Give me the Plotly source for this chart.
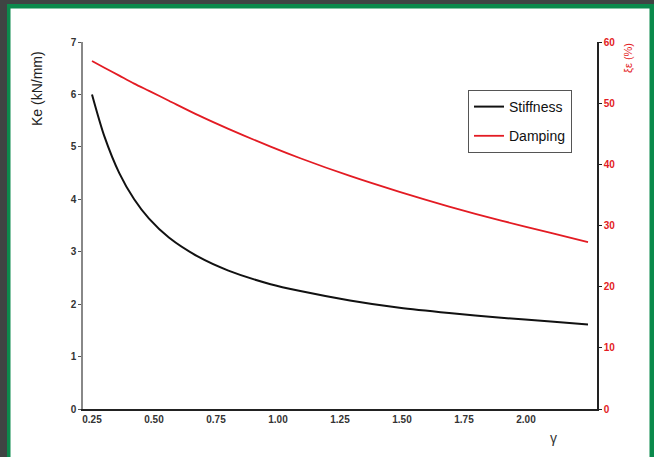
import plotly.graph_objects as go

# ---- data ----
gamma = [0.25, 0.30, 0.36, 0.42, 0.48, 0.56, 0.68, 0.80, 0.97, 1.09, 1.29, 1.49, 1.69, 1.90, 2.10, 2.25]
stiffness = [6.00, 5.20, 4.50, 4.00, 3.63, 3.27, 2.90, 2.64, 2.38, 2.25, 2.07, 1.93, 1.83, 1.74, 1.67, 1.61]
damping = [56.9, 55.8, 54.5, 53.2, 52.0, 50.4, 48.0, 45.8, 42.9, 41.0, 38.1, 35.5, 33.1, 30.8, 28.8, 27.3]

x_label_vals = [0.25, 0.50, 0.75, 1.00, 1.25, 1.50, 1.75, 2.00]
x_label_text = ["0.25", "0.50", "0.75", "1.00", "1.25", "1.50", "1.75", "2.00"]
x_tick_marks = [0.5, 0.7875, 1.075, 1.3625, 1.65, 1.9375, 2.225]
y_left_ticks = [0, 1, 2, 3, 4, 5, 6, 7]
y_right_ticks = [0, 10, 20, 30, 40, 50, 60]

W, H = 654, 457
ML, MR, MT, MB = 83, 57, 42, 48
PW, PH = W - ML - MR, H - MT - MB

def xp(px):
    return (px - ML) / PW

def yp(py):
    return (H - MB - py) / PH

RED = "#e31b23"
FONT = "Liberation Sans, Arial, sans-serif"

fig = go.Figure()
fig.add_trace(go.Scatter(x=gamma, y=stiffness, mode="lines", name="Stiffness",
                         line=dict(color="#111111", width=2, shape="spline", smoothing=0.8),
                         xaxis="x", yaxis="y", legendgroup="a"))
fig.add_trace(go.Scatter(x=gamma, y=damping, mode="lines", name="Damping",
                         line=dict(color=RED, width=1.8, shape="spline", smoothing=0.8),
                         xaxis="x", yaxis="y2", legendgroup="b"))

shapes = [
    dict(type="rect", xref="paper", yref="paper", x0=xp(0), x1=xp(7), y0=yp(H), y1=yp(0),
         fillcolor="#3f4443", line=dict(width=0), layer="below"),
    dict(type="rect", xref="paper", yref="paper", x0=xp(0), x1=xp(W), y0=yp(4), y1=yp(0),
         fillcolor="#3f4443", line=dict(width=0), layer="below"),
    dict(type="rect", xref="paper", yref="paper", x0=xp(7), x1=xp(10.5), y0=yp(H), y1=yp(4),
         fillcolor="#0b8a4c", line=dict(width=0), layer="below"),
    dict(type="rect", xref="paper", yref="paper", x0=xp(7), x1=xp(W), y0=yp(8.5), y1=yp(4),
         fillcolor="#0b8a4c", line=dict(width=0), layer="below"),
    dict(type="rect", xref="paper", yref="paper", x0=xp(649.5), x1=xp(W), y0=yp(H), y1=yp(4),
         fillcolor="#0b8a4c", line=dict(width=0), layer="below"),
]

annotations = [
    dict(text="Ke (kN/mm)", xref="paper", yref="paper", x=xp(37), y=yp(89),
         xanchor="center", yanchor="middle",
         textangle=-90, showarrow=False, font=dict(family=FONT, size=14, color="#222222")),
    dict(text="ξε (%)", xref="paper", yref="paper", x=xp(628), y=yp(58),
         xanchor="center", yanchor="middle",
         textangle=-90, showarrow=False, font=dict(family=FONT, size=11, color=RED)),
    dict(text="γ", xref="paper", yref="paper", x=xp(553), y=yp(438),
         xanchor="center", yanchor="middle",
         showarrow=False, font=dict(family=FONT, size=14, color="#333333")),
]

xr = [0.25 + (ML - 92) / 248, 0.25 + (W - MR - 92) / 248]

fig.update_layout(
    width=W, height=H,
    margin=dict(l=ML, r=MR, t=MT, b=MB, pad=0),
    paper_bgcolor="white", plot_bgcolor="rgba(0,0,0,0)",
    shapes=shapes, annotations=annotations,
    showlegend=True,
    legend=dict(x=xp(468), y=yp(90), xanchor="left", yanchor="top",
                bgcolor="white", bordercolor="#555555", borderwidth=1,
                font=dict(family=FONT, size=14, color="#111111"),
                tracegroupgap=8, traceorder="grouped"),
    xaxis=dict(range=xr, tickvals=x_label_vals, ticktext=x_label_text, ticks="",
               showgrid=False, zeroline=False, showline=True, linecolor="#222222", linewidth=1.5,
               tickfont=dict(family=FONT, size=10, color="#333333", weight="bold"), anchor="y"),
    xaxis2=dict(range=xr, overlaying="x", side="bottom", anchor="y", tickvals=x_tick_marks,
                ticks="outside", ticklen=3, tickcolor="#222222", showticklabels=False,
                showgrid=False, zeroline=False, showline=False),
    yaxis=dict(range=[0, 7], tickvals=y_left_ticks, ticks="outside", ticklen=3, tickcolor="#555555",
               showgrid=False, zeroline=False, showline=True, linecolor="#888888", linewidth=1.5,
               tickfont=dict(family=FONT, size=10, color="#333333", weight="bold")),
    yaxis2=dict(range=[0, 60], tickvals=y_right_ticks, overlaying="y", side="right", anchor="x",
                ticks="outside", ticklen=3, tickcolor="#222222",
                showgrid=False, zeroline=False, showline=True, linecolor="#222222", linewidth=1.5,
                tickfont=dict(family=FONT, size=10, color=RED, weight="bold")),
)

fig.write_html("out.html")
